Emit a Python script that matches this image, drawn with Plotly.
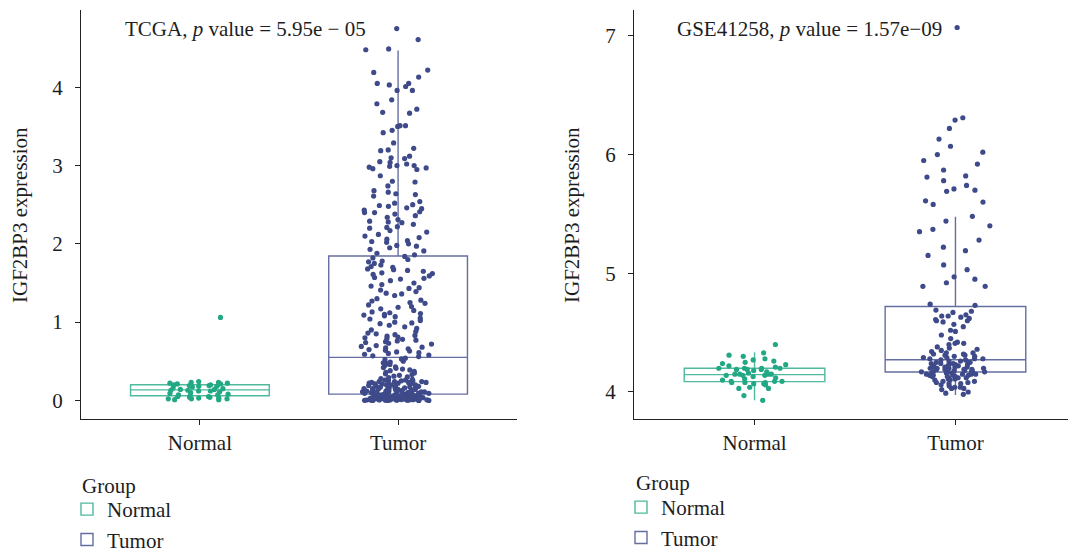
import plotly.graph_objects as go

# ---------------- data ----------------
groups = ["Normal", "Tumor"]

tcga_normal = [1.06, 0.24, 0.23, 0.23, 0.22, 0.22, 0.21, 0.21, 0.20, 0.20, 0.19, 0.19,
               0.18, 0.18, 0.17, 0.16, 0.15, 0.14, 0.14, 0.13, 0.13, 0.12, 0.12, 0.11,
               0.10, 0.09, 0.08, 0.07, 0.07, 0.06, 0.05, 0.05, 0.04, 0.04, 0.03, 0.03,
               0.02, 0.02, 0.02, 0.01, 0.01]

tcga_tumor = [
    4.75, 4.61, 4.49, 4.48, 4.22, 4.19, 4.13, 4.05, 4.05, 4.03, 4.01, 3.96, 3.96, 3.84,
    3.79, 3.72, 3.68, 3.67, 3.51, 3.51, 3.50, 3.45, 3.42, 3.29, 3.22, 3.20, 3.19, 3.12,
    3.10, 3.09, 3.05, 3.04, 3.02, 3.00, 3.00, 2.99, 2.98, 2.97, 2.96, 2.95, 2.87, 2.80,
    2.79, 2.74, 2.68, 2.66, 2.64, 2.63, 2.61, 2.54, 2.52, 2.50, 2.49, 2.48, 2.46, 2.45,
    2.43, 2.41, 2.40, 2.40, 2.38, 2.36, 2.34, 2.31, 2.29, 2.28, 2.27, 2.25, 2.22, 2.21,
    2.20, 2.17, 2.15, 2.12, 2.10, 2.08, 2.06, 2.04, 2.03, 2.02, 2.00, 1.98, 1.97, 1.95,
    1.93, 1.91, 1.88, 1.86,
    1.84, 1.82, 1.80, 1.78, 1.77, 1.75, 1.73, 1.71, 1.70, 1.68, 1.67, 1.66, 1.65, 1.63,
    1.62, 1.61, 1.59, 1.57, 1.56, 1.55, 1.53, 1.50, 1.48, 1.46, 1.44, 1.43, 1.41, 1.39,
    1.37, 1.36, 1.34, 1.30, 1.28, 1.27, 1.25, 1.24, 1.22, 1.20, 1.19, 1.17, 1.15, 1.13,
    1.12, 1.11, 1.10, 1.09, 1.08, 1.07, 1.05, 1.04, 1.02, 1.00, 0.99, 0.98, 0.96, 0.94,
    0.92, 0.90, 0.88, 0.86, 0.85, 0.84, 0.83, 0.82, 0.81, 0.80, 0.79, 0.78, 0.77, 0.76,
    0.75, 0.74, 0.73, 0.72, 0.70, 0.69, 0.68, 0.67, 0.66, 0.65, 0.64, 0.63, 0.62, 0.61,
    0.60, 0.59, 0.58, 0.57, 0.56,
    0.54, 0.53, 0.52, 0.50, 0.49, 0.48, 0.47, 0.46, 0.45, 0.43, 0.42, 0.41, 0.40, 0.39,
    0.38, 0.37, 0.36, 0.35, 0.34, 0.33, 0.32, 0.31, 0.30, 0.29, 0.28,
    0.27, 0.26, 0.26, 0.25, 0.25, 0.25, 0.24, 0.24, 0.24, 0.23, 0.23, 0.23, 0.22, 0.22,
    0.22, 0.21, 0.21, 0.21, 0.20, 0.20, 0.20, 0.19, 0.19, 0.19, 0.18, 0.18, 0.18, 0.17,
    0.17, 0.17, 0.16, 0.16, 0.16, 0.15, 0.15, 0.15, 0.15, 0.14, 0.14, 0.14, 0.14, 0.13,
    0.13, 0.13, 0.13, 0.12, 0.12, 0.12, 0.12, 0.11, 0.11, 0.11, 0.11, 0.11, 0.10, 0.10,
    0.10, 0.10, 0.10, 0.09, 0.09, 0.09, 0.09, 0.09, 0.09, 0.08, 0.08, 0.08, 0.08, 0.08,
    0.079, 0.077, 0.076, 0.074, 0.071, 0.070, 0.068, 0.067, 0.065, 0.064, 0.063, 0.061,
    0.060, 0.058, 0.057, 0.055, 0.054, 0.053, 0.052, 0.050, 0.049, 0.048, 0.047, 0.046,
    0.045, 0.044, 0.043, 0.042, 0.041, 0.040, 0.039, 0.038, 0.037, 0.036, 0.035, 0.035,
    0.034, 0.033, 0.032, 0.031, 0.030, 0.030, 0.029, 0.028, 0.027, 0.026, 0.026, 0.025,
    0.024, 0.023, 0.022, 0.022, 0.021, 0.020, 0.019, 0.019, 0.018, 0.017, 0.016, 0.016,
    0.015, 0.014, 0.013, 0.013, 0.012, 0.011, 0.011, 0.010, 0.009, 0.009, 0.008, 0.007,
    0.007, 0.006, 0.005, 0.005, 0.004, 0.004, 0.003, 0.003, 0.002, 0.002, 0.001, 0.001,
    0.001, 0.000, 0.000, 0.000]

gse_normal = [4.40, 4.33, 4.31, 4.30, 4.28, 4.27, 4.26, 4.25, 4.24, 4.23, 4.22, 4.21,
              4.20, 4.20, 4.20, 4.20, 4.19, 4.19, 4.19, 4.18, 4.17, 4.16, 4.15, 4.15,
              4.15, 4.15, 4.14, 4.14, 4.14, 4.13, 4.12, 4.11, 4.10, 4.09, 4.09, 4.09,
              4.08, 4.08, 4.08, 4.07, 4.07, 4.06, 4.04, 4.03, 4.03, 3.97, 3.93]

gse_tumor = [
    7.07, 6.31, 6.29, 6.22, 6.13, 6.07, 6.02, 6.00, 5.95, 5.92, 5.87, 5.82, 5.81, 5.78,
    5.74, 5.71, 5.70, 5.69, 5.61, 5.60, 5.58, 5.48, 5.44, 5.40, 5.37, 5.35, 5.28, 5.22,
    5.19, 5.15, 5.07, 5.03, 4.97, 4.95, 4.92, 4.89, 4.89, 4.74, 4.73,
    4.69, 4.68, 4.67, 4.65, 4.64, 4.64, 4.63, 4.62, 4.61, 4.60, 4.60, 4.59, 4.57, 4.55,
    4.52, 4.51, 4.48, 4.45, 4.42, 4.41, 4.41, 4.40, 4.38, 4.37, 4.36, 4.35, 4.34, 4.33,
    4.33, 4.32, 4.32, 4.31, 4.31, 4.30, 4.30, 4.29, 4.29, 4.28, 4.28, 4.28,
    4.27, 4.27, 4.26, 4.26, 4.25, 4.25, 4.25, 4.24, 4.24, 4.24, 4.23, 4.23, 4.23, 4.22,
    4.22, 4.22, 4.21, 4.21, 4.21, 4.21, 4.20, 4.20, 4.20, 4.20, 4.19, 4.19, 4.19, 4.19,
    4.18, 4.18, 4.18, 4.18, 4.17, 4.17, 4.17, 4.17, 4.17, 4.16, 4.16, 4.16,
    4.16, 4.15, 4.15, 4.15, 4.15, 4.14, 4.14, 4.14, 4.14, 4.13, 4.13, 4.13, 4.12, 4.12,
    4.12, 4.11, 4.11, 4.10, 4.10, 4.09, 4.09, 4.08, 4.08, 4.07, 4.07, 4.06, 4.05, 4.04,
    4.04, 4.03, 4.03, 4.02, 4.00, 3.99, 3.98]

# box statistics: q1, median, q3, lower whisker, upper whisker
tcga_normal_box = [0.06, 0.135, 0.20, 0.01, 0.24]
tcga_tumor_box = [0.08, 0.55, 1.845, 0.0, 4.47]
gse_normal_box = [4.087, 4.146, 4.20, 3.93, 4.334]
gse_tumor_box = [4.168, 4.272, 4.72, 3.975, 5.476]

titles = ["TCGA, <i>p</i> value = 5.95e − 05", "GSE41258, <i>p</i> value = 1.57e−09"]
y_label = "IGF2BP3 expression"
legend_title = "Group"
y_ticks_left = [0, 1, 2, 3, 4]
y_ticks_right = [4, 5, 6, 7]

# ---------------- style ----------------
FONT = "Liberation Serif"
FS = 21
PAGE_W, PAGE_H = 1076, 552
OFF = 8                       # default page margin of the html body
FW, FH = PAGE_W - OFF, PAGE_H - OFF
TXT = "#1e1e1e"
pt_col = {"Normal": "#22A884", "Tumor": "#3E4A89"}
box_col = {"Normal": "rgba(34,168,132,0.8)", "Tumor": "rgba(62,74,137,0.8)"}


def px(x):   # page pixel -> paper x
    return (x - OFF) / FW


def py(y):   # page pixel (from top) -> paper y
    return (PAGE_H - y) / FH


fig = go.Figure()


def add_series(name, vals, stats, xa, ya, legend, edges):
    q1, med, q3, lo, hi = stats
    fig.add_trace(go.Box(
        x=[name], q1=[q1], median=[med], q3=[q3], lowerfence=[lo], upperfence=[hi],
        name=name, xaxis=xa, yaxis=ya, width=0.7, whiskerwidth=0,
        fillcolor="rgba(0,0,0,0)", line=dict(color=box_col[name], width=1.4),
        boxpoints=False, legend=legend, legendgroup=legend + name, showlegend=True))
    # jittered points, split into value bands so the spread stays even
    bands = [[] for _ in range(len(edges) + 1)]
    for v in vals:
        k = sum(v > e for e in edges)
        bands[k].append(v)
    for b in bands:
        if not b:
            continue
        fig.add_trace(go.Box(
            x=[name] * len(b), y=b, name=name, xaxis=xa, yaxis=ya, width=0.4,
            boxpoints="all", jitter=1.0, pointpos=0,
            fillcolor="rgba(0,0,0,0)", line=dict(width=0, color="rgba(0,0,0,0)"),
            marker=dict(color=pt_col[name], size=5.2, line=dict(width=0)),
            legendgroup=legend + name, showlegend=False, hoveron="points"))


b = tcga_normal_box
add_series("Normal", tcga_normal, b, "x", "y", "legend", [b[0], b[1], b[2], b[4]])
b = tcga_tumor_box
add_series("Tumor", tcga_tumor, b, "x", "y", "legend", [b[0], b[1], b[2], 2.9, 3.55, 4.1])
b = gse_normal_box
add_series("Normal", gse_normal, b, "x2", "y2", "legend2", [b[0], b[1], b[2], b[4]])
b = gse_tumor_box
add_series("Tumor", gse_tumor, b, "x2", "y2", "legend2", [b[0], b[1], b[2], b[4]])

xdom_l = [px(81), px(517)]
xdom_r = [px(634), 1.0]
ydom = [py(419), py(10)]

axis_common = dict(showline=True, linecolor="#222", linewidth=1.2, ticks="outside",
                   ticklen=5, tickwidth=1.1, tickcolor="#222", showgrid=False,
                   zeroline=False, automargin=False,
                   tickfont=dict(family=FONT, size=FS, color=TXT))

xa_common = dict(axis_common, type="category", categoryorder="array",
                 categoryarray=groups, range=[-0.6, 1.6], ticklabelstandoff=0)

leg_common = dict(xanchor="left", yanchor="top",
                  font=dict(family=FONT, size=FS, color=TXT),
                  bgcolor="rgba(0,0,0,0)", itemwidth=30, tracegroupgap=0)


def note(text, x, y, **kw):
    d = dict(text=text, x=px(x), y=py(y), xref="paper", yref="paper",
             xanchor="left", yanchor="middle", showarrow=False,
             font=dict(family=FONT, size=FS, color=TXT))
    d.update(kw)
    return d


fig.update_layout(
    width=FW, height=FH, margin=dict(l=0, r=0, t=0, b=0, autoexpand=False),
    paper_bgcolor="white", plot_bgcolor="white",
    font=dict(family=FONT, size=FS, color=TXT),
    boxmode="overlay",
    xaxis=dict(xa_common, domain=xdom_l, anchor="y"),
    xaxis2=dict(xa_common, domain=xdom_r, anchor="y2"),
    yaxis=dict(axis_common, domain=ydom, anchor="x", range=[-0.2375, 4.9875],
               tickvals=y_ticks_left, ticklabelstandoff=8),
    yaxis2=dict(axis_common, domain=ydom, anchor="x2", range=[3.7725, 7.2175],
                tickvals=y_ticks_right, ticklabelstandoff=8),
    legend=dict(leg_common, x=px(67), y=py(489)),
    legend2=dict(leg_common, x=px(621), y=py(487)),
    annotations=[
        note(titles[0], 123, 29),
        note(titles[1], 675, 29),
        note(legend_title, 80, 486),
        note(legend_title, 634, 483),
        note(y_label, 20, 215, xanchor="center", textangle=-90),
        note(y_label, 572, 215, xanchor="center", textangle=-90),
    ],
)

fig.write_html("out.html")
